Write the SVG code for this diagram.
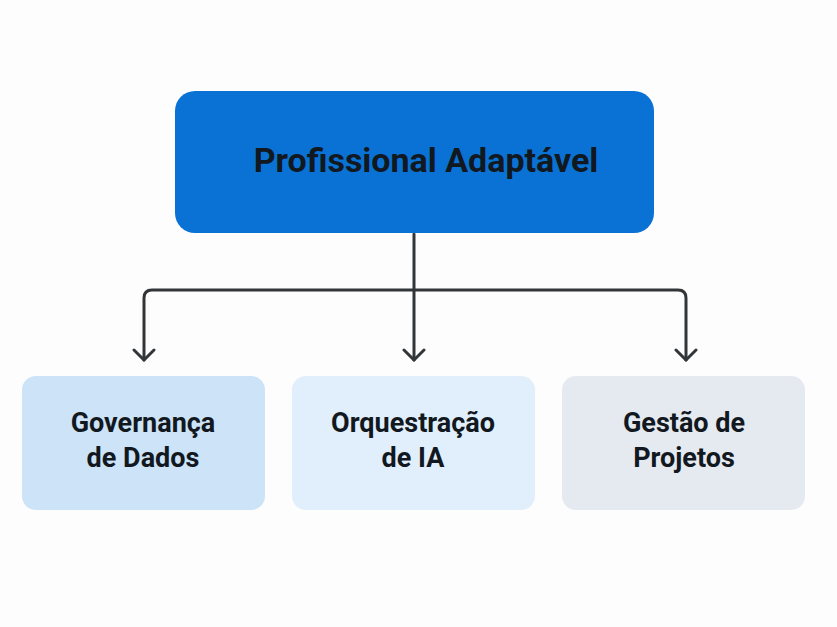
<svg xmlns="http://www.w3.org/2000/svg" width="837" height="627" viewBox="0 0 837 627">
<defs>
<style>
.t{font-family:Roboto,"DejaVu Sans",sans-serif;font-weight:700;fill:#111820;text-anchor:middle}
.s{font-size:27px}
.c{fill:none;stroke:#333638;stroke-width:3;stroke-linecap:round;stroke-linejoin:round}
</style>
<marker id="arr" viewBox="0 0 20 24" refX="12" refY="12" markerWidth="20" markerHeight="24" markerUnits="userSpaceOnUse" orient="auto">
<path d="M2,2 L12,12 L2,22" fill="none" stroke="#333638" stroke-width="3" stroke-linecap="round" stroke-linejoin="round"/>
</marker>
</defs>
<rect width="837" height="627" fill="#fdfdfe"/>
<g id="connectors">
<path class="c" d="M414,234 V360" marker-end="url(#arr)"/>
<path class="c" d="M414,290 H152 Q144,290 144,298 V360" marker-end="url(#arr)"/>
<path class="c" d="M414,290 H678 Q686,290 686,298 V360" marker-end="url(#arr)"/>
</g>
<g id="root">
<rect x="175" y="91" width="479" height="142" rx="20" fill="#0a72d4"/>
<text class="t" x="426" y="172" font-size="34">Profissional Adaptável</text>
</g>
<g id="n1">
<rect x="22" y="376" width="243" height="134" rx="14" fill="#cce3f8"/>
<text class="t s" x="143" y="432">Governança</text>
<text class="t s" x="143" y="467">de Dados</text>
</g>
<g id="n2">
<rect x="292" y="376" width="243" height="134" rx="14" fill="#e1eefb"/>
<text class="t s" x="413" y="432">Orquestração</text>
<text class="t s" x="413" y="467">de IA</text>
</g>
<g id="n3">
<rect x="562" y="376" width="243" height="134" rx="14" fill="#e5e9f0"/>
<text class="t s" x="684" y="432">Gestão de</text>
<text class="t s" x="684" y="467">Projetos</text>
</g>
</svg>
